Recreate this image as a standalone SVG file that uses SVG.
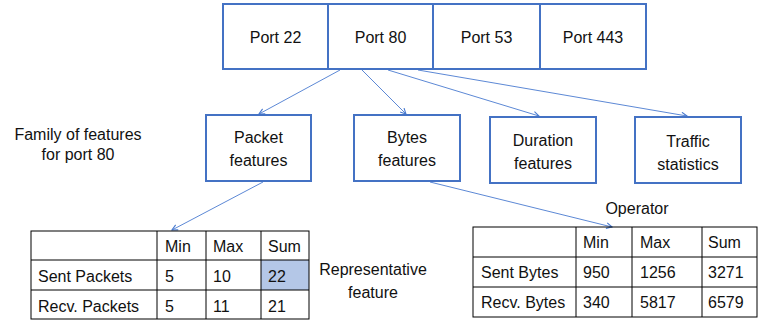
<svg xmlns="http://www.w3.org/2000/svg" width="758" height="321" viewBox="0 0 758 321">
<style>
text{font-family:"Liberation Sans",Arial,sans-serif;font-size:16px;fill:#111}
.c{text-anchor:middle}
.box{fill:#fff;stroke:#4472c4;stroke-width:2}
.con{stroke:#4a7bd0;stroke-width:0.9;fill:none;marker-end:url(#ah)}
.tb{stroke:#000;stroke-width:1;fill:none}
</style>
<defs>
<marker id="ah" viewBox="0 0 10 10" refX="9" refY="5" markerWidth="7" markerHeight="7" markerUnits="userSpaceOnUse" orient="auto">
<path d="M1,1 L9,5 L1,9" fill="none" stroke="#4a7bd0" stroke-width="1.6"/>
</marker>
</defs>
<rect width="758" height="321" fill="#fff"/>
<g id="connectors">
<line class="con" x1="340" y1="70" x2="259" y2="114"/>
<line class="con" x1="362" y1="70" x2="406" y2="114"/>
<line class="con" x1="388" y1="70" x2="539" y2="116"/>
<line class="con" x1="418" y1="70" x2="687" y2="116"/>
<line class="con" x1="263" y1="182" x2="172" y2="230"/>
<line class="con" x1="430" y1="182" x2="612" y2="227"/>
</g>
<g id="port22"><rect class="box" x="223" y="4" width="105" height="65"/><text class="c" x="275.5" y="43">Port 22</text></g>
<g id="port80"><rect class="box" x="328" y="4" width="105" height="65"/><text class="c" x="380.5" y="43">Port 80</text></g>
<g id="port53"><rect class="box" x="433" y="4" width="107" height="65"/><text class="c" x="486.5" y="43">Port 53</text></g>
<g id="port443"><rect class="box" x="540" y="4" width="106" height="65"/><text class="c" x="593" y="43">Port 443</text></g>
<g id="packet"><rect class="box" x="206" y="115" width="105" height="66"/><text class="c" x="258.5" y="143">Packet</text><text class="c" x="258.5" y="166">features</text></g>
<g id="bytes"><rect class="box" x="354" y="115" width="106" height="66"/><text class="c" x="407" y="143">Bytes</text><text class="c" x="407" y="166">features</text></g>
<g id="duration"><rect class="box" x="490" y="117" width="106" height="66"/><text class="c" x="543" y="146">Duration</text><text class="c" x="543" y="169">features</text></g>
<g id="traffic"><rect class="box" x="635" y="117" width="106" height="66"/><text class="c" x="688" y="147">Traffic</text><text class="c" x="688" y="170">statistics</text></g>
<g id="family"><text class="c" x="78" y="140">Family of features</text><text class="c" x="78" y="160">for port 80</text></g>
<g id="representative"><text class="c" x="373" y="275">Representative</text><text class="c" x="373" y="298">feature</text></g>
<g id="operator"><text class="c" x="637" y="214">Operator</text></g>
<g id="packet-table">
<rect x="261" y="260" width="48" height="30" fill="#b4c7e7"/>
<rect class="tb" x="31" y="231" width="278" height="88"/>
<line class="tb" x1="31" y1="260" x2="309" y2="260"/>
<line class="tb" x1="31" y1="290" x2="309" y2="290"/>
<line class="tb" x1="157" y1="231" x2="157" y2="319"/>
<line class="tb" x1="206" y1="231" x2="206" y2="319"/>
<line class="tb" x1="261" y1="231" x2="261" y2="319"/>
<text x="165" y="252">Min</text><text x="213" y="252">Max</text><text x="268" y="252">Sum</text>
<text x="38" y="282">Sent Packets</text><text x="165" y="282">5</text><text x="213" y="282">10</text><text x="268" y="282">22</text>
<text x="38" y="312">Recv. Packets</text><text x="165" y="312">5</text><text x="213" y="312">11</text><text x="268" y="312">21</text>
</g>
<g id="bytes-table">
<rect class="tb" x="473" y="227" width="284" height="90"/>
<line class="tb" x1="473" y1="257" x2="757" y2="257"/>
<line class="tb" x1="473" y1="287" x2="757" y2="287"/>
<line class="tb" x1="576" y1="227" x2="576" y2="317"/>
<line class="tb" x1="632" y1="227" x2="632" y2="317"/>
<line class="tb" x1="702" y1="227" x2="702" y2="317"/>
<text x="583" y="248">Min</text><text x="640" y="248">Max</text><text x="708" y="248">Sum</text>
<text x="481" y="278">Sent Bytes</text><text x="583" y="278">950</text><text x="640" y="278">1256</text><text x="708" y="278">3271</text>
<text x="481" y="308">Recv. Bytes</text><text x="583" y="308">340</text><text x="640" y="308">5817</text><text x="708" y="308">6579</text>
</g>
</svg>
